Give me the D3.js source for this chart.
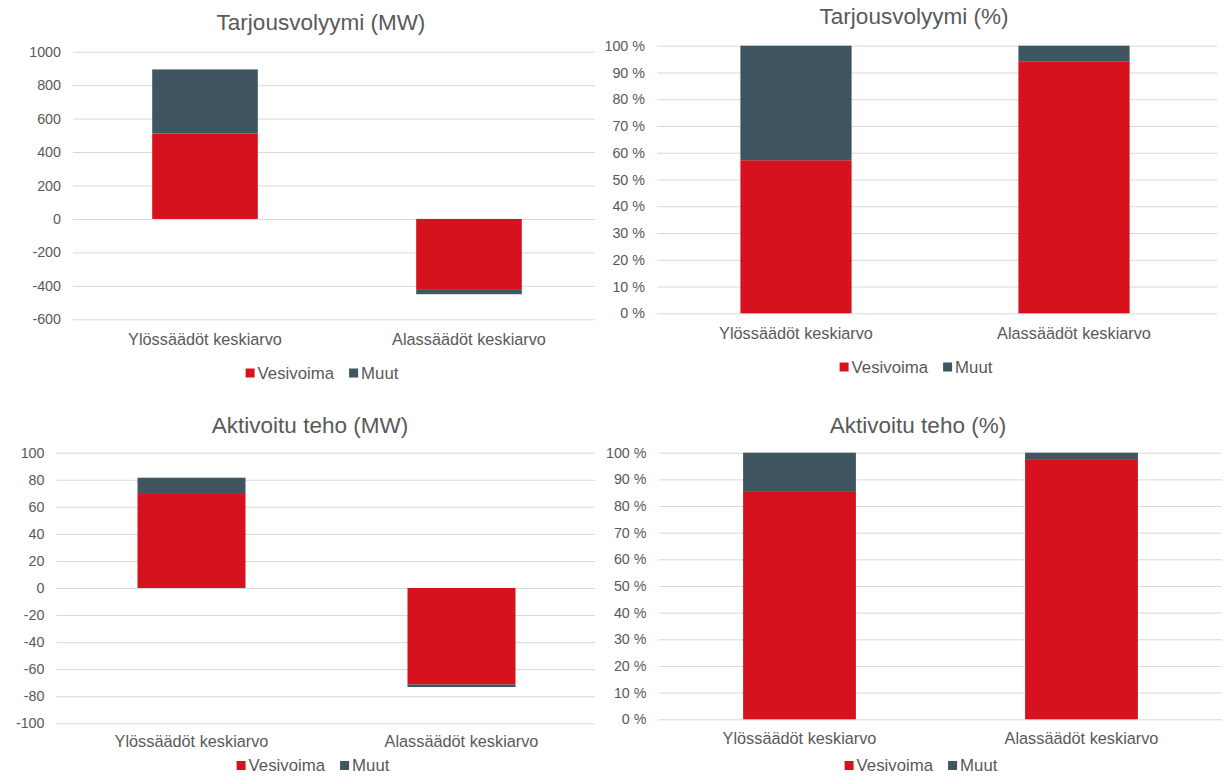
<!DOCTYPE html>
<html>
<head>
<meta charset="utf-8">
<script src="https://cdn.jsdelivr.net/npm/d3@7"></script>
<style>
  body { margin: 0; background: #fff; }
  svg text { font-family: "Liberation Sans", Arial, sans-serif; fill: #595959; }
  .grid line { stroke: #d9d9d9; stroke-width: 1; }
  .grid .domain { display: none; }
  .xax .domain { display: none; }
</style>
</head>
<body>
<div id="chart"></div>
<script>
// Data
var categories = ["Ylössäädöt keskiarvo", "Alassäädöt keskiarvo"];
var seriesNames = ["Vesivoima", "Muut"];
var colors = ["#d7121f", "#3f555f"];

var tarjousMwVesivoima = [511, -424];
var tarjousMwMuut = [383, -26];
var tarjousPctVesivoima = [57.2, 94.2];
var tarjousPctMuut = [42.8, 5.8];
var aktivoituMwVesivoima = [69.5, -71.3];
var aktivoituMwMuut = [12, -1.9];
var aktivoituPctVesivoima = [85.6, 97.3];
var aktivoituPctMuut = [14.4, 2.7];

var tarjousMwTicks = [-600, -400, -200, 0, 200, 400, 600, 800, 1000];
var aktivoituMwTicks = [-100, -80, -60, -40, -20, 0, 20, 40, 60, 80, 100];
var pctTicks = [0, 10, 20, 30, 40, 50, 60, 70, 80, 90, 100];

var svg = d3.select("#chart")
    .append("svg")
    .attr("width", 1227)
    .attr("height", 776);

var panels = [
    { title: "Tarjousvolyymi (MW)", a: tarjousMwVesivoima, b: tarjousMwMuut, ticks: tarjousMwTicks, pct: false,
      x0: 73, x1: 601, gx1: 595, yTop: 51.7, yBot: 319.3, titleX: 321, titleY: 22, catY: 339, legX: 322, legY: 373 },
    { title: "Tarjousvolyymi (%)", a: tarjousPctVesivoima, b: tarjousPctMuut, ticks: pctTicks, pct: true,
      x0: 657, x1: 1213, gx1: 1217, yTop: 45.7, yBot: 313.3, titleX: 914, titleY: 16, catY: 333, legX: 916, legY: 367 },
    { title: "Aktivoitu teho (MW)", a: aktivoituMwVesivoima, b: aktivoituMwMuut, ticks: aktivoituMwTicks, pct: false,
      x0: 56.5, x1: 596.5, gx1: 595, yTop: 452.7, yBot: 723.3, titleX: 310, titleY: 425, catY: 741, legX: 313, legY: 765.5 },
    { title: "Aktivoitu teho (%)", a: aktivoituPctVesivoima, b: aktivoituPctMuut, ticks: pctTicks, pct: true,
      x0: 658.5, x1: 1222.5, gx1: 1222, yTop: 452.7, yBot: 719.3, titleX: 918, titleY: 425, catY: 738, legX: 921, legY: 765.5 }
];

panels.forEach(function (p) {
    var g = svg.append("g");

    var rows = categories.map(function (c, i) {
        return { cat: c, Vesivoima: p.a[i], Muut: p.b[i] };
    });

    var x = d3.scaleBand()
        .domain(categories)
        .range([p.x0, p.x1])
        .paddingInner(0.6)
        .paddingOuter(0.3);

    var y = d3.scaleLinear()
        .domain(d3.extent(p.ticks))
        .range([p.yBot, p.yTop]);

    // gridlines + y labels
    var yAxis = d3.axisLeft(y)
        .tickValues(p.ticks)
        .tickSize(-(p.gx1 - p.x0))
        .tickPadding(12)
        .tickFormat(function (d) { return p.pct ? d + " %" : d; });

    g.append("g")
        .attr("class", "grid")
        .attr("transform", "translate(" + p.x0 + ",0)")
        .call(yAxis)
        .selectAll("text")
        .style("font-size", "14.3px");

    // stacked bars
    var stack = d3.stack()
        .keys(seriesNames)
        .offset(d3.stackOffsetDiverging);

    var layers = stack(rows);

    g.selectAll("g.layer")
        .data(layers)
        .enter()
        .append("g")
        .attr("class", "layer")
        .attr("fill", function (d, i) { return colors[i]; })
        .selectAll("rect")
        .data(function (d) { return d; })
        .enter()
        .append("rect")
        .attr("x", function (d) { return x(d.data.cat); })
        .attr("width", x.bandwidth())
        .attr("y", function (d) { return y(Math.max(d[0], d[1])); })
        .attr("height", function (d) { return Math.abs(y(d[0]) - y(d[1])); });

    // category labels
    var xAxis = d3.axisBottom(x).tickSize(0).tickPadding(0);
    g.append("g")
        .attr("class", "xax")
        .attr("transform", "translate(0," + p.catY + ")")
        .call(xAxis)
        .selectAll("text")
        .attr("dy", "0.35em")
        .style("font-size", "16.3px");

    // title
    g.append("text")
        .attr("x", p.titleX)
        .attr("y", p.titleY)
        .attr("dy", "0.35em")
        .attr("text-anchor", "middle")
        .style("font-size", "22.5px")
        .text(p.title);

    // legend
    var leg = g.append("g");
    var offset = 0;
    seriesNames.forEach(function (name, i) {
        var item = leg.append("g").attr("transform", "translate(" + offset + ",0)");
        item.append("rect")
            .attr("x", 0)
            .attr("y", -4.5)
            .attr("width", 9)
            .attr("height", 9)
            .attr("fill", colors[i]);
        var t = item.append("text")
            .attr("x", 12)
            .attr("dy", "0.35em")
            .style("font-size", "16.8px")
            .text(name);
        offset += 12 + t.node().getComputedTextLength() + 15;
    });
    var legW = offset - 15;
    leg.attr("transform", "translate(" + (p.legX - legW / 2) + "," + p.legY + ")");
});
</script>
</body>
</html>
